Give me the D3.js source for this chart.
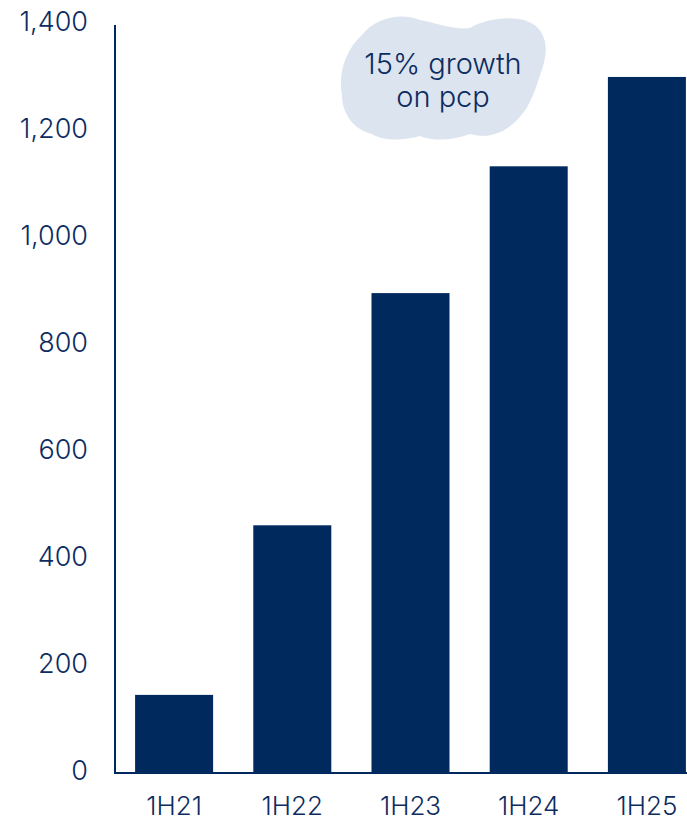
<!DOCTYPE html>
<html>
<head>
<meta charset="utf-8">
<script src="https://cdn.jsdelivr.net/npm/d3@7"></script>
<style>
  body { margin: 0; background: #fff; }
  text { font-family: Inter, "Open Sans", sans-serif; font-weight: 300; fill: #0d2c5f; }
</style>
</head>
<body>
<script>
// Daten
var categories = ["1H21", "1H22", "1H23", "1H24", "1H25"];
var values = [146, 463, 897, 1134, 1301];
var yTicks = [0, 200, 400, 600, 800, 1000, 1200, 1400];
var noteLines = ["15% growth", "on pcp"];

var width = 687, height = 824;
var navy = "#002a5e";

var svg = d3.select("body").append("svg")
  .attr("width", width)
  .attr("height", height);

// Skalen
var x = d3.scaleBand()
  .domain(categories)
  .range([115, 706])
  .paddingInner(0.34)
  .paddingOuter(0.17);

var y = d3.scaleLinear()
  .domain([0, 1400])
  .range([773, 24]);

// Wolke
var cloud = svg.append("g");
cloud.append("path")
  .attr("d", "M362,35 C375,18 400,12 420,20 C440,24 455,30 470,28 C490,16 525,14 538,28 " +
             "C550,42 546,60 540,75 C534,95 528,110 515,122 C500,136 485,138 470,134 " +
             "C455,140 435,142 420,136 C405,140 385,142 372,134 C355,130 342,115 342,95 " +
             "C338,75 345,50 362,35 Z")
  .attr("fill", "#dbe4ef");

cloud.selectAll("text")
  .data(noteLines)
  .enter()
  .append("text")
  .attr("x", 443)
  .attr("y", function(d, i) { return 74 + i * 33; })
  .attr("text-anchor", "middle")
  .attr("font-size", "29px")
  .text(function(d) { return d; });

// Balken
svg.selectAll("rect.bar")
  .data(values)
  .enter()
  .append("rect")
  .attr("class", "bar")
  .attr("x", function(d, i) { return x(categories[i]); })
  .attr("y", function(d) { return y(d); })
  .attr("width", x.bandwidth())
  .attr("height", function(d) { return y(0) - y(d); })
  .attr("fill", navy);

// y-Achse
var yAxis = svg.append("g")
  .attr("transform", "translate(115,0)")
  .call(d3.axisLeft(y).tickValues(yTicks).tickSize(0).tickPadding(27).tickFormat(d3.format(",")));
yAxis.select(".domain").attr("stroke", navy).attr("stroke-width", 2).attr("d", "M0,25V773");
yAxis.selectAll("text")
  .attr("font-size", "27px")
  .attr("dy", "0.25em")
  .style("font-family", "Inter, 'Open Sans', sans-serif")
  .style("font-weight", 300)
  .attr("fill", "#0d2c5f");

// x-Achse
var xAxis = svg.append("g")
  .attr("transform", "translate(0,773)")
  .call(d3.axisBottom(x).tickSize(0).tickPadding(24));
xAxis.select(".domain").attr("stroke", navy).attr("stroke-width", 2).attr("d", "M114,0H687");
xAxis.selectAll("text")
  .attr("font-size", "26px")
  .style("font-family", "Inter, 'Open Sans', sans-serif")
  .style("font-weight", 300)
  .attr("fill", "#0d2c5f");
</script>
</body>
</html>
